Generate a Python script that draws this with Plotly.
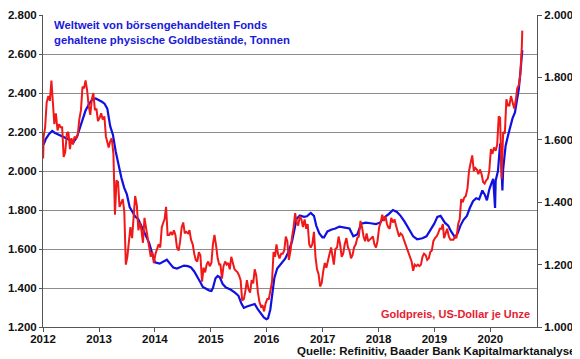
import plotly.graph_objects as go

# ---- Blue: ETF gold holdings (tonnes), left axis ----
etf_dates = [
    "2012-01-05","2012-01-20","2012-02-10","2012-03-01","2012-03-20","2012-04-15","2012-05-10","2012-06-01",
    "2012-06-25","2012-07-20","2012-08-10","2012-08-28","2012-09-15","2012-10-05","2012-10-25","2012-11-15",
    "2012-12-10","2013-01-01","2013-01-20","2013-02-06","2013-02-24","2013-03-15","2013-04-02","2013-04-20",
    "2013-05-08","2013-05-27","2013-06-14","2013-07-02","2013-07-20","2013-08-08","2013-08-26","2013-09-13",
    "2013-10-01","2013-10-19","2013-11-06","2013-11-25","2013-12-13","2014-01-01",
    "2014-02-01","2014-03-01","2014-03-20","2014-04-15","2014-05-01","2014-05-25","2014-06-20","2014-07-10",
    "2014-08-05","2014-08-25","2014-09-15","2014-10-05","2014-10-25","2014-11-10","2014-12-01","2014-12-20",
    "2015-01-05","2015-01-15","2015-02-01","2015-02-15","2015-03-01","2015-03-20","2015-04-10","2015-05-10",
    "2015-06-10","2015-07-01","2015-07-20","2015-08-05","2015-08-25","2015-09-20","2015-10-15","2015-11-05",
    "2015-11-25","2015-12-15","2015-12-31",
    "2016-01-10","2016-01-25","2016-02-05","2016-02-20","2016-03-10","2016-04-05","2016-05-01","2016-05-25",
    "2016-06-15","2016-06-28","2016-07-15","2016-08-05","2016-09-01","2016-09-20","2016-10-15","2016-11-05",
    "2016-11-20","2016-12-10","2016-12-30",
    "2017-01-10","2017-02-01","2017-03-01","2017-03-25","2017-04-20","2017-05-20","2017-06-25","2017-07-20",
    "2017-08-15","2017-09-10","2017-10-10","2017-11-10","2017-12-15",
    "2018-01-10","2018-02-05","2018-03-10","2018-04-05","2018-05-01","2018-05-25","2018-06-20","2018-07-20",
    "2018-08-15","2018-09-10","2018-10-15","2018-11-10","2018-12-10","2018-12-31",
    "2019-01-20","2019-02-10","2019-03-10","2019-04-01","2019-04-20","2019-05-15","2019-06-01","2019-06-20",
    "2019-07-10","2019-08-01","2019-08-20","2019-09-10","2019-10-01","2019-10-20","2019-11-10","2019-11-25",
    "2019-12-10","2019-12-25",
    "2020-01-10","2020-01-20","2020-02-01","2020-02-05","2020-02-20","2020-03-05","2020-03-12","2020-03-20",
    "2020-03-25","2020-04-10","2020-04-25","2020-05-10","2020-05-25","2020-06-10","2020-06-25","2020-07-05",
    "2020-07-15","2020-07-22","2020-07-28",
]
etf_tonnes = [
    2135,2165,2190,2205,2195,2185,2175,2170,
    2160,2150,2175,2220,2270,2310,2340,2365,
    2372,2365,2355,2345,2320,2230,2185,2100,
    2030,1965,1915,1880,1815,1790,1765,1755,
    1725,1695,1665,1630,1580,1532,
    1525,1535,1545,1520,1505,1500,1510,1515,
    1512,1505,1485,1460,1430,1405,1395,1388,
    1385,1400,1450,1462,1455,1420,1402,1392,
    1375,1360,1320,1298,1305,1310,1318,1290,
    1270,1248,1240,
    1245,1290,1360,1450,1500,1525,1550,1590,
    1640,1690,1755,1772,1765,1768,1785,1770,
    1720,1680,1660,
    1660,1690,1700,1705,1715,1712,1705,1665,
    1675,1730,1735,1732,1728,
    1735,1760,1780,1800,1790,1770,1740,1700,
    1665,1650,1655,1665,1700,1730,
    1765,1770,1735,1720,1690,1660,1680,1720,
    1750,1770,1810,1845,1860,1855,1900,1880,
    1850,1905,
    1940,1960,1810,1950,2000,2140,2060,1900,
    2010,2130,2180,2230,2270,2300,2370,2420,
    2500,2560,2620,
]

# ---- Red: gold price, USD per ounce, right axis ----
gold_dates = ["2012-01-02"]
gold_usd = [1540]
gold_months = [
    ("2012-01", [1610, 1640, 1720]), ("2012-02", [1740, 1725, 1790]), ("2012-03", [1705, 1650, 1685]),
    ("2012-04", [1630, 1650, 1640]), ("2012-05", [1640, 1545, 1560]), ("2012-06", [1620, 1625, 1570]),
    ("2012-07", [1605, 1585, 1610]), ("2012-08", [1605, 1615, 1665]), ("2012-09", [1695, 1770, 1765]),
    ("2012-10", [1790, 1760, 1710]), ("2012-11", [1680, 1730, 1750]), ("2012-12", [1695, 1700, 1660]),
    ("2013-01", [1670, 1685, 1665]), ("2013-02", [1675, 1610, 1585]), ("2013-03", [1575, 1595, 1605]),
    ("2013-04", [1555, 1360, 1470]), ("2013-05", [1465, 1385, 1395]), ("2013-06", [1410, 1370, 1200]),
    ("2013-07", [1225, 1285, 1320]), ("2013-08", [1285, 1365, 1420]), ("2013-09", [1390, 1310, 1335]),
    ("2013-10", [1310, 1270, 1350]), ("2013-11", [1315, 1285, 1245]), ("2013-12", [1225, 1240, 1205]),
    ("2014-01", [1235, 1250, 1265]), ("2014-02", [1255, 1320, 1335]), ("2014-03", [1345, 1385, 1295]),
    ("2014-04", [1295, 1305, 1295]), ("2014-05", [1310, 1295, 1255]), ("2014-06", [1245, 1275, 1320]),
    ("2014-07", [1335, 1300, 1305]), ("2014-08", [1300, 1310, 1280]), ("2014-09", [1265, 1235, 1215]),
    ("2014-10", [1210, 1240, 1230]), ("2014-11", [1145, 1190, 1175]), ("2014-12", [1200, 1210, 1195]),
    ("2015-01", [1205, 1265, 1295]), ("2015-02", [1260, 1220, 1200]), ("2015-03", [1200, 1155, 1195]),
    ("2015-04", [1210, 1200, 1205]), ("2015-05", [1185, 1225, 1205]), ("2015-06", [1185, 1180, 1175]),
    ("2015-07", [1165, 1150, 1085]), ("2015-08", [1090, 1115, 1150]), ("2015-09", [1120, 1110, 1150]),
    ("2015-10", [1140, 1185, 1165]), ("2015-11", [1110, 1080, 1065]), ("2015-12", [1070, 1050, 1075]),
    ("2016-01", [1090, 1090, 1115]), ("2016-02", [1145, 1240, 1225]), ("2016-03", [1265, 1235, 1220]),
    ("2016-04", [1235, 1235, 1245]), ("2016-05", [1290, 1275, 1215]), ("2016-06", [1245, 1290, 1320]),
    ("2016-07", [1365, 1335, 1325]), ("2016-08", [1355, 1345, 1320]), ("2016-09", [1345, 1315, 1330]),
    ("2016-10", [1265, 1255, 1265]), ("2016-11", [1305, 1225, 1185]), ("2016-12", [1170, 1130, 1140]),
    ("2017-01", [1180, 1205, 1190]), ("2017-02", [1220, 1235, 1255]), ("2017-03", [1225, 1200, 1250]),
    ("2017-04", [1255, 1290, 1265]), ("2017-05", [1225, 1235, 1265]), ("2017-06", [1285, 1255, 1245]),
    ("2017-07", [1220, 1230, 1255]), ("2017-08", [1265, 1285, 1290]), ("2017-09", [1340, 1320, 1290]),
    ("2017-10", [1275, 1300, 1275]), ("2017-11", [1280, 1285, 1290]), ("2017-12", [1265, 1255, 1275]),
    ("2018-01", [1320, 1335, 1360]), ("2018-02", [1340, 1355, 1330]), ("2018-03", [1320, 1315, 1350]),
    ("2018-04", [1335, 1345, 1325]), ("2018-05", [1310, 1290, 1300]), ("2018-06", [1295, 1280, 1265]),
    ("2018-07", [1255, 1240, 1225]), ("2018-08", [1210, 1180, 1200]), ("2018-09", [1195, 1200, 1195]),
    ("2018-10", [1200, 1225, 1235]), ("2018-11", [1230, 1215, 1220]), ("2018-12", [1240, 1245, 1275]),
    ("2019-01", [1285, 1290, 1300]), ("2019-02", [1315, 1315, 1330]), ("2019-03", [1285, 1300, 1315]),
    ("2019-04", [1290, 1280, 1280]), ("2019-05", [1280, 1290, 1285]), ("2019-06", [1330, 1345, 1410]),
    ("2019-07", [1400, 1415, 1420]), ("2019-08", [1445, 1500, 1525]), ("2019-09", [1550, 1500, 1510]),
    ("2019-10", [1505, 1490, 1505]), ("2019-11", [1490, 1465, 1460]), ("2019-12", [1470, 1475, 1500]),
    ("2020-01", [1570, 1555, 1575]), ("2020-02", [1565, 1585, 1675]), ("2020-03", [1670, 1475, 1625]),
    ("2020-04", [1620, 1730, 1710]), ("2020-05", [1710, 1740, 1720]), ("2020-06", [1700, 1725, 1765]),
    ("2020-07", [1775, 1810, 1900]),
]
for month, vals in gold_months:
    for day, v in zip(["05", "15", "25"], vals):
        gold_dates.append(f"{month}-{day}")
        gold_usd.append(v)
gold_dates.append("2020-07-28")
gold_usd.append(1950)

# ---- Axis ticks ----
year_ticks = [f"{y}-01-01" for y in range(2012, 2021)]
year_labels = [str(y) for y in range(2012, 2021)]
left_vals = [1200, 1400, 1600, 1800, 2000, 2200, 2400, 2600, 2800]
left_labels = ["1.200", "1.400", "1.600", "1.800", "2.000", "2.200", "2.400", "2.600", "2.800"]
right_vals = [1000, 1200, 1400, 1600, 1800, 2000]
right_labels = ["1.000", "1.200", "1.400", "1.600", "1.800", "2.000"]

BLUE = "#1010e0"
RED = "#f01818"
FONT = "Liberation Sans"

fig = go.Figure()
fig.add_trace(go.Scatter(x=etf_dates, y=etf_tonnes, mode="lines", yaxis="y",
                         line=dict(color=BLUE, width=2.2), hoverinfo="skip"))
fig.add_trace(go.Scatter(x=gold_dates, y=gold_usd, mode="lines", yaxis="y2",
                         line=dict(color=RED, width=2), hoverinfo="skip"))

# page body has an 8px margin, so the figure is shrunk/shifted to compensate
tickfont = dict(family=FONT, size=11.5, color="#111")
fig.update_layout(
    width=572, height=351,
    margin=dict(l=35, r=43, t=7, b=32, autoexpand=False),
    paper_bgcolor="white", plot_bgcolor="white",
    showlegend=False,
    xaxis=dict(type="date", range=["2012-01-01", "2020-11-01"],
               tickvals=year_ticks, ticktext=[f"<b>{t}</b>" for t in year_labels],
               tickfont=tickfont, showgrid=False, zeroline=False, automargin=False,
               showline=True, linecolor="#555", linewidth=1,
               ticks="outside", ticklen=4, tickcolor="#555", ticklabelstandoff=-3),
    yaxis=dict(range=[1200, 2800], tickvals=left_vals,
               ticktext=[f"<b>{t}</b>" for t in left_labels],
               tickfont=tickfont, showgrid=True, gridcolor="#8c8c8c", gridwidth=1.3,
               zeroline=False, showline=True, linecolor="#555", linewidth=1, automargin=False,
               ticks="outside", ticklen=3, tickcolor="#555"),
    yaxis2=dict(range=[1000, 2000], overlaying="y", side="right", tickvals=right_vals,
                ticktext=[f"<b>{t}</b>" for t in right_labels],
                tickfont=tickfont, showgrid=False, zeroline=False, automargin=False,
                showline=True, linecolor="#555", linewidth=1,
                ticks="outside", ticklen=4, tickcolor="#555"),
    annotations=[
        dict(text="<b>Weltweit von börsengehandelten Fonds<br>gehaltene physische Goldbestände, Tonnen</b>",
             xref="paper", yref="paper", x=0.018, y=0.994, xanchor="left", yanchor="top",
             align="left", showarrow=False, font=dict(family=FONT, size=11.3, color="#1a1ad8")),
        dict(text="<b>Goldpreis, US-Dollar je Unze</b>",
             xref="paper", yref="paper", x=0.99, y=0.042, xanchor="right", yanchor="middle",
             showarrow=False, font=dict(family=FONT, size=11, color="#e52030")),
        dict(text="<b>Quelle: Refinitiv, Baader Bank Kapitalmarktanalyse</b>",
             xref="paper", yref="paper", x=1.081, y=-0.077, xanchor="right", yanchor="middle",
             showarrow=False, font=dict(family=FONT, size=11.5, color="#111")),
    ],
)

fig.write_html("out.html")
